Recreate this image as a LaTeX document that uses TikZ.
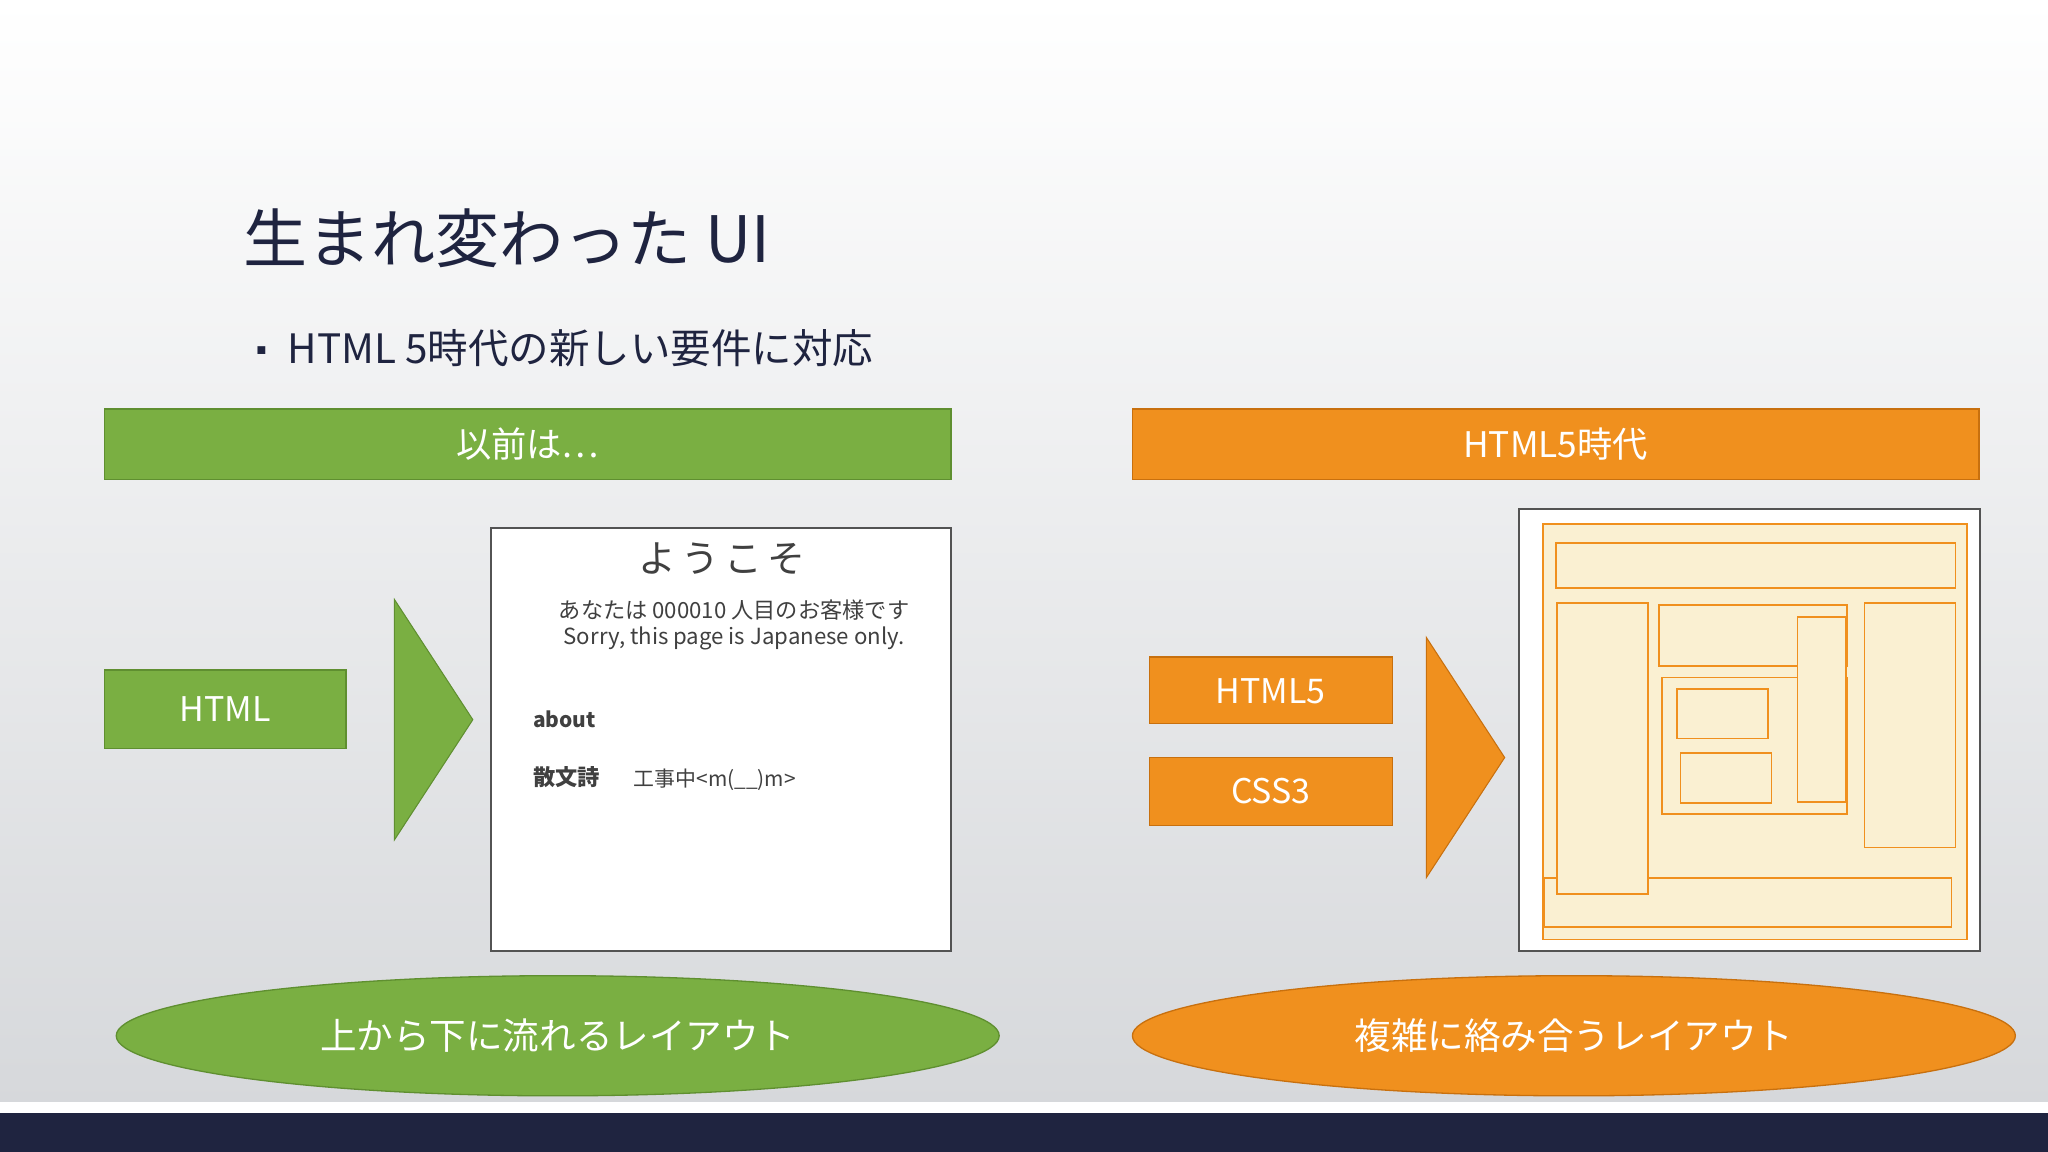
\documentclass[tikz,border=0pt]{standalone}
\usepackage{fontspec}
\setmainfont{Noto Sans CJK JP}
\usetikzlibrary{shapes.geometric}
\definecolor{gfill}{HTML}{7AAF42}
\definecolor{gline}{HTML}{5F8F30}
\definecolor{ofill}{HTML}{F0901E}
\definecolor{oline}{HTML}{C8700E}
\definecolor{pale}{HTML}{FAF0D2}
\definecolor{navy}{HTML}{1F2440}
\definecolor{bgbot}{HTML}{D6D8DB}
\definecolor{txt}{HTML}{404040}
\tikzset{
  gbox/.style={draw=gline,fill=gfill,line width=1.2pt,text=white},
  obox/.style={draw=oline,fill=ofill,line width=1.2pt,text=white},
  lay/.style={draw=ofill,fill=pale,line width=1.3pt},
  pg/.style={text=txt,inner sep=0pt}
}
\begin{document}
\begin{tikzpicture}[x=1pt,y=-1pt]
\useasboundingbox (0,0) rectangle (1568,882);
\shade[top color=white,bottom color=bgbot] (0,0) rectangle (1568,846);
\fill[white] (0,844) rectangle (1568,852);
\fill[navy] (0,852) rectangle (1568,882);
\node[anchor=base west,text=navy,font=\fontsize{49}{58}\selectfont,inner sep=0pt] (title) at (186,201) {生まれ変わった UI};
\node[anchor=base west,text=navy,font=\fontsize{22}{26}\selectfont,inner sep=0pt] (bul) at (189,277) {▪};
\node[anchor=base west,text=navy,font=\fontsize{31}{36}\selectfont,inner sep=0pt] (sub) at (220,278) {HTML 5時代の新しい要件に対応};
% header bars
\draw[gbox] (80,313) rectangle (728,367);
\node[text=white,font=\fontsize{27}{30}\selectfont] (prev) at (404,340) {以前は…};
\draw[obox] (867,313) rectangle (1515,367);
\node[text=white,font=\fontsize{27}{30}\selectfont] (h5) at (1191,340) {HTML5時代};
% left side
\draw[gbox] (80,513) rectangle (265,573);
\node[text=white,font=\fontsize{26}{30}\selectfont] (html) at (172.5,543) {HTML};
\fill[gfill] (302,459) -- (362,551) -- (302,643) -- cycle;
\draw[gline,line width=0.8pt] (302,459) -- (362,551) -- (302,643) -- cycle;
\draw[fill=white,draw=txt!90,line width=1.3pt] (376,404) rectangle (728,728);
\node[pg,font=\fontsize{29}{32}\selectfont] (yk) at (553,428) {よ\hspace{4pt}う\hspace{4pt}こ\hspace{4pt}そ};
\node[pg,font=\fontsize{17}{19}\selectfont] (l1) at (562,467) {あなたは 000010 人目のお客様です};
\node[pg,font=\fontsize{17}{19}\selectfont] (l2) at (562,489) {Sorry, this page is Japanese only.};
\node[pg,anchor=west,font=\bfseries\fontsize{16}{19}\selectfont] (ab) at (408,551) {about};
\node[pg,anchor=west,font=\bfseries\fontsize{17}{19}\selectfont] (sb) at (408,595) {散文詩};
\node[pg,anchor=west,font=\fontsize{16}{19}\selectfont] (kj) at (485,597) {工事中<m(\_\_)m>};
% right side
\draw[obox] (880,503) rectangle (1066,554);
\node[text=white,font=\fontsize{26}{30}\selectfont] (h5b) at (973,529) {HTML5};
\draw[obox] (880,580) rectangle (1066,632);
\node[text=white,font=\fontsize{26}{30}\selectfont] (css) at (973,606) {CSS3};
\fill[ofill] (1092,488) -- (1152,580) -- (1092,672) -- cycle;
\draw[oline,line width=0.8pt] (1092,488) -- (1152,580) -- (1092,672) -- cycle;
\draw[fill=white,draw=txt!90,line width=1.5pt] (1163,390) rectangle (1516,728);
\draw[lay] (1181.6,401.4) rectangle (1505.7,719.2);
\draw[lay] (1191.3,416.0) rectangle (1497.1,450.4);
\draw[lay] (1182.1,672.0) rectangle (1494.2,709.5);
\draw[lay] (1192.0,461.7) rectangle (1261.5,684.5);
\draw[lay] (1270.1,463.2) rectangle (1413.9,510.0);
\draw[lay] (1272.2,518.6) rectangle (1413.9,623.2);
\draw[lay] (1376.3,472.4) rectangle (1413.3,613.8);
\draw[lay] (1283.7,527.3) rectangle (1353.6,565.5);
\draw[lay] (1286.7,576.5) rectangle (1356.4,614.8);
\draw[lay] (1427.4,461.7) rectangle (1497.1,648.8);
% ellipses
\node[ellipse,draw=gline,fill=gfill,line width=1pt,minimum width=676pt,minimum height=92pt,inner sep=0pt] (e1) at (427,793) {};
\node[text=white,font=\fontsize{28}{32}\selectfont] (e1t) at (427,793) {上から下に流れるレイアウト};
\node[ellipse,draw=oline,fill=ofill,line width=1pt,minimum width=676pt,minimum height=92pt,inner sep=0pt] (e2) at (1205,793) {};
\node[text=white,font=\fontsize{28}{32}\selectfont] (e2t) at (1205,793) {複雑に絡み合うレイアウト};
\end{tikzpicture}
\end{document}
